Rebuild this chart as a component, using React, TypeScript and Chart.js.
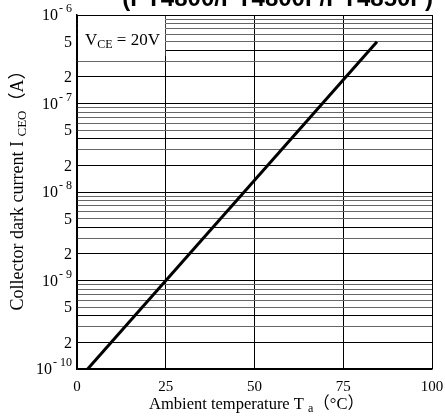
import React, { useEffect, useRef } from "react";
import { Chart, registerables } from "chart.js";

Chart.register(...registerables);

// ---- data ----
const seriesTemp = [3, 84.5]; // Ambient temperature (°C)
const seriesDark = [1e-10, 5e-7]; // Collector dark current (A)

const xTickValues = [0, 25, 50, 75, 100];
const xTickLabels = ["0", "25", "50", "75", "100"];

const yGridValues = [
  1e-10, 2e-10, 3e-10, 4e-10, 5e-10, 6e-10, 7e-10, 8e-10, 9e-10,
  1e-9, 2e-9, 3e-9, 4e-9, 5e-9, 6e-9, 7e-9, 8e-9, 9e-9,
  1e-8, 2e-8, 3e-8, 4e-8, 5e-8, 6e-8, 7e-8, 8e-8, 9e-8,
  1e-7, 2e-7, 3e-7, 4e-7, 5e-7, 6e-7, 7e-7, 8e-7, 9e-7,
  1e-6,
];
const yLabelValues = [1e-6, 5e-7, 2e-7, 1e-7, 5e-8, 2e-8, 1e-8, 5e-9, 2e-9, 1e-9, 5e-10, 2e-10, 1e-10];
const yLabelMain = ["10", "5", "2", "10", "5", "2", "10", "5", "2", "10", "5", "2", "10"];
const yLabelSup = ["- 6", "", "", "- 7", "", "", "- 8", "", "", "- 9", "", "", "- 10"];

const titleText = "(PT4800/PT4800F/PT4850F)";
const serif = '"Liberation Serif", "Times New Roman", "Noto Sans CJK JP", serif';

const textPlugin = {
  id: "customText",
  beforeDatasetsDraw(chart: any) {
    const { ctx, chartArea, scales } = chart;
    const x25 = scales.x.getPixelForValue(25);
    ctx.save();
    ctx.fillStyle = "#fff";
    ctx.fillRect(chartArea.left + 1, chartArea.top + 1, x25 - chartArea.left - 1.5, 40);
    ctx.fillStyle = "#000";
    ctx.textBaseline = "alphabetic";
    ctx.textAlign = "left";
    let x = chartArea.left + 8;
    const by = chartArea.top + 30;
    ctx.font = `17px ${serif}`;
    ctx.fillText("V", x, by);
    x += ctx.measureText("V").width;
    ctx.font = `12px ${serif}`;
    ctx.fillText("CE", x, by + 3);
    x += ctx.measureText("CE").width;
    ctx.font = `17px ${serif}`;
    ctx.fillText(" = 20V", x, by);
    ctx.restore();
  },
  afterDraw(chart: any) {
    const { ctx, chartArea, scales } = chart;
    ctx.save();
    ctx.fillStyle = "#000";
    // x tick labels
    ctx.font = `15px ${serif}`;
    ctx.textAlign = "center";
    ctx.textBaseline = "middle";
    xTickValues.forEach((v, i) => {
      ctx.fillText(xTickLabels[i], scales.x.getPixelForValue(v), chartArea.bottom + 18);
    });
    // y tick labels
    const rx = chartArea.left - 5;
    yLabelValues.forEach((v, i) => {
      const y = scales.y.getPixelForValue(v);
      let xr = rx;
      ctx.textAlign = "right";
      if (yLabelSup[i]) {
        ctx.font = `12px ${serif}`;
        ctx.textBaseline = "alphabetic";
        ctx.fillText(yLabelSup[i], xr, y - 3);
        xr -= ctx.measureText(yLabelSup[i]).width + 1;
      }
      ctx.font = `16px ${serif}`;
      ctx.textBaseline = "middle";
      ctx.fillText(yLabelMain[i], xr, y + 1);
    });
    const drawParts = (parts: any[], cx: number, by: number) => {
      let w = 0;
      parts.forEach((p) => { ctx.font = p.f; w += ctx.measureText(p.t).width; });
      let x = cx - w / 2;
      ctx.textAlign = "left";
      ctx.textBaseline = "alphabetic";
      parts.forEach((p) => {
        ctx.font = p.f;
        ctx.fillText(p.t, x, by + p.dy);
        x += ctx.measureText(p.t).width;
      });
    };
    // x axis title
    drawParts(
      [
        { t: "Ambient temperature T ", f: `16.5px ${serif}`, dy: 0 },
        { t: "a", f: `12px ${serif}`, dy: 3 },
        { t: "（°C）", f: `16.5px ${serif}`, dy: 0 },
      ],
      (chartArea.left + chartArea.right) / 2 + 2,
      chartArea.bottom + 40
    );
    // y axis title (rotated)
    ctx.save();
    ctx.translate(23, (chartArea.top + chartArea.bottom) / 2 - 6);
    ctx.rotate(-Math.PI / 2);
    drawParts(
      [
        { t: "Collector dark current I ", f: `18px ${serif}`, dy: 0 },
        { t: "CEO", f: `13px ${serif}`, dy: 3 },
        { t: "（A）", f: `18px ${serif}`, dy: 0 },
      ],
      0,
      0
    );
    ctx.restore();
    // title (cut off at the top)
    ctx.font = `bold 24px "Liberation Sans", Arial, sans-serif`;
    ctx.textAlign = "right";
    ctx.textBaseline = "alphabetic";
    ctx.fillText(titleText, chartArea.right + 1, 6);
    ctx.restore();
  },
};

export default function App() {
  const ref = useRef<HTMLCanvasElement | null>(null);
  useEffect(() => {
    if (!ref.current) return;
    const points = seriesTemp.map((t, i) => ({ x: t, y: seriesDark[i] }));
    const chart = new Chart(ref.current, {
      type: "line",
      data: {
        datasets: [
          {
            data: points,
            borderColor: "#000",
            borderWidth: 3,
            pointRadius: 0,
            tension: 0,
            fill: false,
          },
        ],
      },
      options: {
        animation: false,
        responsive: false,
        devicePixelRatio: 1,
        layout: { padding: { left: 77, right: 13, top: 15, bottom: 48 } },
        plugins: { legend: { display: false }, tooltip: { enabled: false }, title: { display: false } },
        scales: {
          x: {
            type: "linear",
            min: 0,
            max: 100,
            afterBuildTicks: (s: any) => { s.ticks = xTickValues.map((v) => ({ value: v })); },
            ticks: { display: false },
            grid: { color: "#000", lineWidth: 1, drawTicks: false },
            border: { display: true, color: "#000", width: 1.5 },
          },
          y: {
            type: "logarithmic",
            min: 1e-10,
            max: 1e-6,
            afterBuildTicks: (s: any) => { s.ticks = yGridValues.map((v) => ({ value: v })); },
            ticks: { display: false },
            grid: {
              color: (c: any) => {
                const v = c.tick ? c.tick.value : 0;
                const m = v / Math.pow(10, Math.floor(Math.log10(v) + 1e-9));
                return Math.abs(m - 1) < 1e-6 || Math.abs(m - 2) < 1e-6 || Math.abs(m - 4) < 1e-6 ? "#000" : "#666";
              },
              lineWidth: 1,
              drawTicks: false,
            },
            border: { display: true, color: "#000", width: 1.5 },
          },
        },
      } as any,
      plugins: [textPlugin],
    });
    return () => chart.destroy();
  }, []);
  return (
    <div style={{ position: "fixed", left: 0, top: 0, width: 445, height: 417, background: "#fff" }}>
      <canvas ref={ref} width={445} height={417} />
    </div>
  );
}
